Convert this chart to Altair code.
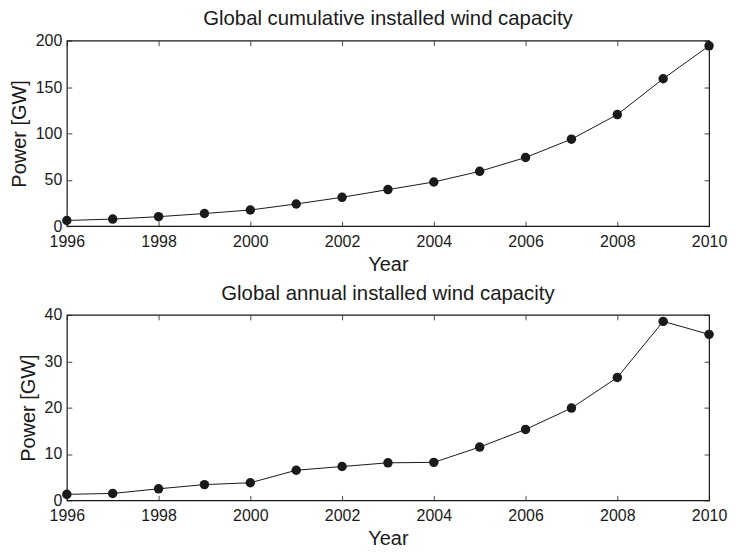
import altair as alt
import pandas as pd

years = list(range(1996, 2011))
cumulative = [6.1, 7.6, 10.2, 13.6, 17.4, 23.9, 31.1, 39.4, 47.6, 59.1, 74.0, 93.8, 120.3, 158.9, 194.4]
annual = [1.3, 1.5, 2.5, 3.4, 3.8, 6.5, 7.3, 8.1, 8.2, 11.5, 15.3, 19.9, 26.5, 38.6, 35.8]

x_ticks = list(range(1996, 2011, 2))
titles = ["Global cumulative installed wind capacity", "Global annual installed wind capacity"]
y_domains = [[0, 200], [0, 40]]
y_ticks = [[0, 50, 100, 150, 200], [0, 10, 20, 30, 40]]

FONT = "Liberation Sans"
TICK = 5
INK = "#1a1a1a"


def panel(values, title, ydom, yticks):
    df = pd.DataFrame({"Year": years, "Power": values})
    xs = alt.Scale(domain=[1996, 2010], nice=False, zero=False)
    ys = alt.Scale(domain=ydom, nice=False, zero=False)
    base = alt.Chart(df)

    line = base.mark_line(color=INK, strokeWidth=1).encode(
        x=alt.X("Year:Q", scale=xs, axis=alt.Axis(
            orient="bottom", values=x_ticks, format="d", ticks=False, domain=False, grid=False,
            labelPadding=7, labelFontSize=16, labelColor=INK, labelFont=FONT, labelFlush=False,
            labelOverlap=False,
            title="Year", titleFontSize=20, titleFont=FONT, titleFontWeight="normal",
            titleColor=INK, titlePadding=5)),
        y=alt.Y("Power:Q", scale=ys, axis=alt.Axis(
            orient="left", values=yticks, ticks=False, domain=False, grid=False,
            labelPadding=5, labelFontSize=16, labelColor=INK, labelFont=FONT, labelFlush=False,
            labelOverlap=False,
            title="Power [GW]", titleFontSize=20, titleFont=FONT, titleFontWeight="normal",
            titleColor=INK, titlePadding=6)),
    )
    pts = base.mark_circle(color=INK, size=90, opacity=1).encode(
        x=alt.X("Year:Q", scale=xs, axis=alt.Axis(
            orient="bottom", values=x_ticks, labels=False, domain=False, grid=False,
            ticks=True, tickSize=TICK, tickColor=INK, tickWidth=0.8, offset=-TICK, title=None)),
        y=alt.Y("Power:Q", scale=ys, axis=alt.Axis(
            orient="left", values=yticks, labels=False, domain=False, grid=False,
            ticks=True, tickSize=TICK, tickColor=INK, tickWidth=0.8, offset=-TICK, title=None)),
    )
    ghost = base.mark_circle(opacity=0).encode(
        x=alt.X("Year:Q", scale=xs, axis=alt.Axis(
            orient="top", values=x_ticks, labels=False, domain=False, grid=False,
            ticks=True, tickSize=TICK, tickColor=INK, tickWidth=0.8, offset=-TICK, title=None)),
        y=alt.Y("Power:Q", scale=ys, axis=alt.Axis(
            orient="right", values=yticks, labels=False, domain=False, grid=False,
            ticks=True, tickSize=TICK, tickColor=INK, tickWidth=0.8, offset=-TICK, title=None)),
    )
    return alt.layer(line, pts, ghost).resolve_axis(x="independent", y="independent").properties(
        width=644, height=186,
        title=alt.TitleParams(title, fontSize=20.4, font=FONT, fontWeight="normal", color=INK,
                              anchor="middle", offset=3),
    )


top = panel(cumulative, titles[0], y_domains[0], y_ticks[0])
bottom = panel(annual, titles[1], y_domains[1], y_ticks[1])

chart = alt.vconcat(top, bottom, spacing=8).configure(
    padding={"left": 0, "top": 0, "right": 0, "bottom": -4},
    background="white",
    view=alt.ViewConfig(stroke=INK, strokeWidth=1.2),
)

chart.save("out.html", embed_options={"renderer": "svg", "actions": False})
